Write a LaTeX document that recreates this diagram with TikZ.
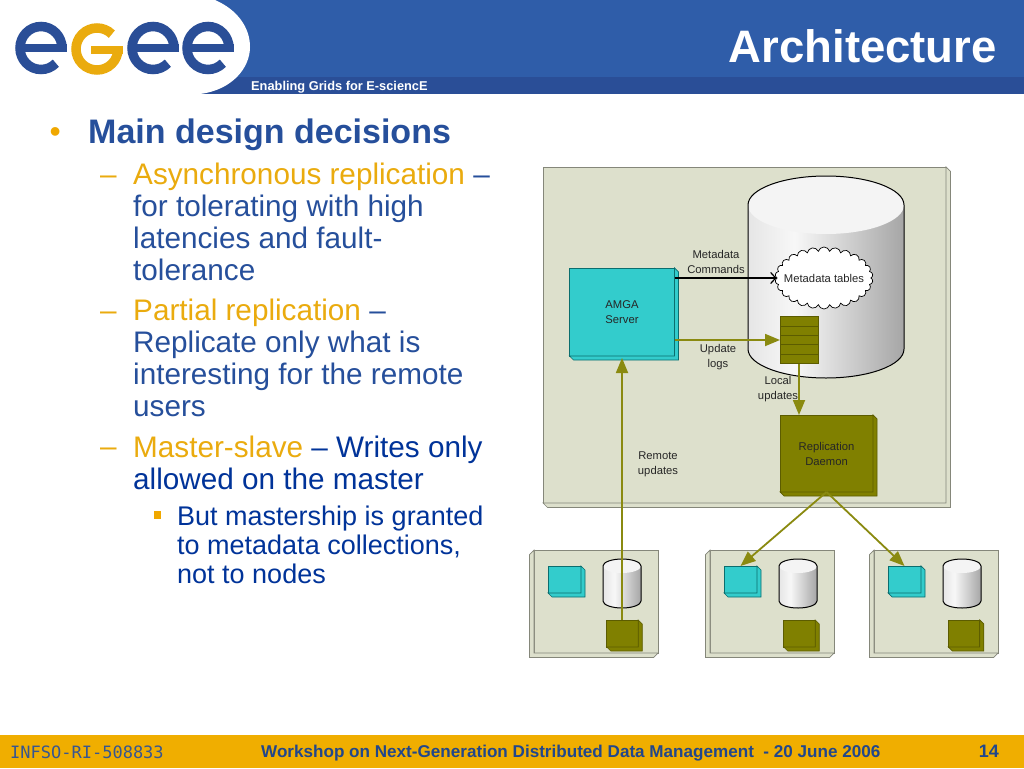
\documentclass[tikz,border=0pt]{standalone}
\usepackage{fontspec}
\setmainfont{Liberation Sans}
\newfontfamily\monofam{DejaVu Sans Mono}
\usetikzlibrary{arrows.meta,calc,shapes.symbols}
\definecolor{cBar}{HTML}{2F5DA9}
\definecolor{cStrip}{HTML}{2A4E97}
\definecolor{cFoot}{HTML}{F0AE00}
\definecolor{cHead}{HTML}{264F9B}
\definecolor{cDeep}{HTML}{003399}
\definecolor{cGold}{HTML}{EAAB0E}
\definecolor{cDot}{HTML}{F0A800}
\definecolor{cPanel}{HTML}{DDE0CC}
\definecolor{cPanelVien}{HTML}{85877A}
\definecolor{cTeal}{HTML}{33CCCC}
\definecolor{cTealVien}{HTML}{0B6E6E}
\definecolor{cOlive}{HTML}{808000}
\definecolor{cOliveVien}{HTML}{5C5C00}
\definecolor{cArrow}{HTML}{8A8A10}
\definecolor{cDrumTop}{HTML}{F4F4F4}
\pgfdeclarehorizontalshading{cylbody}{100bp}{color(0bp)=(white!90!black); color(25bp)=(white!90!black); color(40bp)=(white!97!black); color(75bp)=(black!35); color(100bp)=(black!35)}
% mat ben phai-duoi cua hop
\newcommand{\bevelBR}[4]{\filldraw[fill=#3,draw=#4,line width=.7pt]
  (#1.north east) -- ++(#2,#2) -- ($(#1.south east)+(#2,#2)$) -- ($(#1.south west)+(#2,#2)$)
  -- (#1.south west) -- (#1.south east) -- cycle;}
% mat ben trai-duoi cua hop
\newcommand{\bevelBL}[4]{\filldraw[fill=#3,draw=#4,line width=.7pt]
  (#1.north west) -- ++(-#2,#2) -- ($(#1.south west)+(-#2,#2)$) -- ($(#1.south east)+(-#2,#2)$)
  -- (#1.south east) -- (#1.south west) -- cycle;}
% tru: tam x, y tren, y duoi, ban kinh x, ban kinh y
\newcommand{\drumshape}[5]{
  \path[shading=cylbody,shading angle=0] (#1-#4,#2) -- (#1-#4,#3) arc[start angle=180,end angle=360,x radius=#4,y radius=-#5] -- (#1+#4,#2) -- cycle;
  \fill[cDrumTop] (#1,#2) ellipse[x radius=#4,y radius=#5];
  \draw[black,line width=1pt] (#1-#4,#3) arc[start angle=180,end angle=360,x radius=#4,y radius=-#5] -- (#1+#4,#2) arc[start angle=0,end angle=180,x radius=#4,y radius=-#5] -- cycle;
}

\begin{document}
\begin{tikzpicture}[x=1pt,y=-1pt,
  linetext/.style={anchor=north west, inner sep=0pt, align=left, text=cHead},
  headtext/.style={linetext, font=\fontsize{34}{36}\selectfont\bfseries},
  subtext/.style={linetext, font=\fontsize{29.7}{32}\selectfont},
  subsubtext/.style={linetext, text=cDeep, font=\fontsize{27}{29}\selectfont},
  dashtext/.style={subtext, anchor=base west, text=cGold},
  smalltext/.style={align=center, inner sep=0pt, text=black!85, font=\fontsize{11.25}{15}\selectfont},
  panelbox/.style={draw=cPanelVien, fill=cPanel, line width=.7pt, inner sep=0pt, outer sep=0pt},
  amgabox/.style={draw=cTealVien, fill=cTeal, line width=.7pt, inner sep=0pt, outer sep=0pt, smalltext},
  dmnbox/.style={draw=cOliveVien, fill=cOlive, line width=.7pt, inner sep=0pt, outer sep=0pt, smalltext},
  flowline/.style={draw=cArrow, line width=1.8pt, -{Triangle[length=15pt,width=12pt]}},
  logostroke/.style={line width=9.5pt}
]
\useasboundingbox (0,0) rectangle (1024,768);

% -- Dau trang --
\fill[white] (0,0) rectangle (1024,768);
\fill[cBar] (0,0) rectangle (1024,94);
\fill[cStrip] (200,77) rectangle (1024,94);
\fill[white] (0,0) -- (215,0) .. controls (238,10) and (250,28) .. (250,47)
  .. controls (250,68) and (232,90) .. (200,94) -- (0,94) -- cycle;
\foreach \ex in {41,153,208} {
  \draw[cStrip,line width=7.5pt] (\ex-21,48) -- (\ex+25.7,48);
  \draw[cStrip,logostroke] (\ex+21,48) arc[start angle=0,end angle=-315,x radius=21,y radius=21.5];
}
\draw[cGold,logostroke] (97,49) ++(-45:21) arc[start angle=-45,end angle=-360,radius=21];
\draw[cGold,line width=8pt] (91,50) -- (122.7,50);
\node[anchor=base west, inner sep=0pt, text=white, font=\fontsize{12.8}{14}\selectfont\bfseries] (tagline) at (251,90) {Enabling Grids for E-sciencE};
\node[anchor=base east, inner sep=0pt, text=white, font=\fontsize{45.5}{48}\selectfont\bfseries] (title) at (997,63) {Architecture};

% -- Cac dong chu --
\node[anchor=base west, inner sep=0pt, text=cDot, font=\fontsize{32}{34}\selectfont] (bul1) at (49.5,142.5) {•};
\node[headtext] (main) at (88,119) {Main design decisions};
\node[dashtext] (dash1) at (100,184) {–};
\node[subtext] (line1) at (133,163) {\textcolor{cGold}{Asynchronous replication} –\\for tolerating with high\\latencies and fault-\\tolerance};
\node[dashtext] (dash2) at (100,320) {–};
\node[subtext] (line2) at (133,299) {\textcolor{cGold}{Partial replication} –\\Replicate only what is\\interesting for the remote\\users};
\node[dashtext] (dash3) at (100,456) {–};
\node[subtext] (line3) at (133,436) {\textcolor{cGold}{Master-slave} \textcolor{cDeep}{– Writes only}\\\textcolor{cDeep}{allowed on the master}};
\fill[cDot] (153.5,511) rectangle (161,518.5);
\node[subsubtext] (line4) at (177,506) {But mastership is granted\\to metadata collections,\\not to nodes};

% -- Chan trang --
\fill[cFoot] (0,735) rectangle (1024,768);
\node[anchor=base west, inner sep=0pt, text=cHead!85!black!90, font=\fontsize{17}{19}\selectfont\monofam] (infso) at (10,758) {INFSO-RI-508833};
\node[anchor=base west, inner sep=0pt, text=cHead!90!black, font=\fontsize{17.1}{19}\selectfont\bfseries] (event) at (261,757) {Workshop on Next-Generation Distributed Data Management\ \ - 20 June 2006};
\node[anchor=base east, inner sep=0pt, text=cHead!90!black, font=\fontsize{18}{20}\selectfont\bfseries] (pageno) at (999,757) {14};

% -- Khung lon --
\node[panelbox, minimum width=403pt, minimum height=336pt] (site) at (744.5,335) {};
\bevelBR{site}{4.5}{cPanel}{cPanelVien}
\drumshape{826}{205}{349}{78}{29}
\node[cloud, cloud puffs=26, cloud puff arc=150, cloud ignores aspect, draw=black, fill=white, line width=.7pt, minimum width=98pt, minimum height=62pt, smalltext, inner xsep=-12pt, inner ysep=-2pt] (metatab) at (824,278) {Metadata tables};
\node[draw=cOliveVien, fill=cOlive, line width=.7pt, minimum width=38pt, minimum height=47pt, inner sep=0pt, outer sep=0pt] (logs) at (799,340) {};
\foreach \i in {1,...,4}
  \draw[cOliveVien, line width=.7pt] ($(logs.north west)!\i/5!(logs.south west)$) -- ($(logs.north east)!\i/5!(logs.south east)$);
\node[amgabox, minimum width=105pt, minimum height=88pt] (amga) at (622,312) {AMGA\\Server};
\bevelBR{amga}{4}{cTeal}{cTealVien}
\node[dmnbox, minimum width=93pt, minimum height=77pt] (dmn) at (826.5,453.5) {Replication\\Daemon};
\bevelBR{dmn}{4}{cOlive}{cOliveVien}

% -- Ba khung nho --
\foreach \i/\px/\dx in {1/534/622.5,2/710/799.5,3/874/964} {
  \node[panelbox, minimum width=124pt, minimum height=103pt] (site\i) at (\px+62,601.5) {};
  \bevelBL{site\i}{4.5}{cPanel}{cPanelVien}
  \node[amgabox, minimum width=33pt, minimum height=27pt] (amga\i) at (\px+30.5,579.5) {};
  \bevelBR{amga\i}{4}{cTeal}{cTealVien}
  \pgfmathsetmacro{\cx}{\px+88}
  \drumshape{\cx}{566}{601}{19}{7}
  \node[dmnbox, minimum width=31.5pt, minimum height=27pt] (dmn\i) at (\dx,633.5) {};
  \bevelBR{dmn\i}{4}{cOlive}{cOliveVien}
}

% -- Duong noi --
\draw[black, line width=1.2pt, -{Straight Barb[length=5pt,width=11pt]}] (amga.east |- metatab.west) -- (metatab.west);
\draw[flowline] (amga.east |- logs.west) -- (logs.west);
\draw[flowline] (logs.south) -- (logs.south |- dmn.north);
\draw[flowline, shorten >=2pt] (dmn1.north -| amga.south) -- (amga.south);
\draw[flowline] (dmn.south) -- (amga2.north);
\draw[flowline] (dmn.south) -- (amga3.north);

% -- Nhan --
\node[smalltext] (lbcmd) at (716,262) {Metadata\\Commands};
\node[smalltext] (lbupd) at (718,357.5) {Update\\logs};
\node[smalltext] (lblocal) at (778,389) {Local\\updates};
\node[smalltext] (lbremote) at (658,464) {Remote\\updates};
\end{tikzpicture}
\end{document}
